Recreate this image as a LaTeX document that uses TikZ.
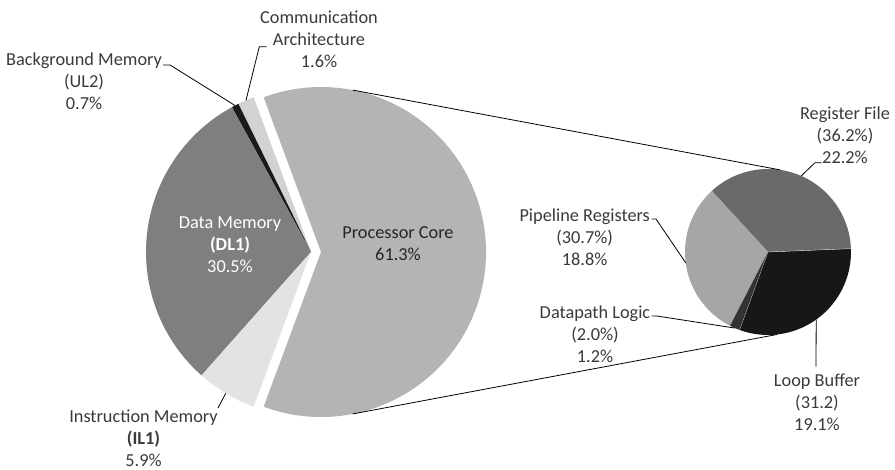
\documentclass[tikz,border=0pt]{standalone}
\usepackage{fontspec}
\setmainfont{Carlito}
\usetikzlibrary{calc}
\definecolor{coreGray}{HTML}{B4B4B4}
\definecolor{dataGray}{HTML}{7F7F7F}
\definecolor{bgBlack}{HTML}{1A1A1A}
\definecolor{commGray}{HTML}{D2D2D2}
\definecolor{instGray}{HTML}{E3E3E3}
\definecolor{rfGray}{HTML}{6A6A6A}
\definecolor{prGray}{HTML}{A6A6A6}
\definecolor{lbBlack}{HTML}{171717}
\definecolor{dlGray}{HTML}{333333}
\definecolor{labelText}{HTML}{3A3A3A}
\begin{document}
\begin{tikzpicture}[x=1pt,y=1pt,
  lbl/.style={align=center,text=labelText,inner sep=0pt,
    font=\fontsize{18.3}{22}\selectfont},
  leader/.style={draw=black,line width=0.8pt},
  zoomline/.style={draw=black,line width=0.8pt}]
\useasboundingbox (0,0) rectangle (895,470);

% pie centres
\coordinate (C1) at (311,218);
\coordinate (Ccore) at (321,218);
\coordinate (C2) at (768,218);

% main pie
\fill[coreGray] (Ccore) -- ++(-110.35:165) arc[start angle=-110.35,end angle=110.35,radius=165] -- cycle;
\fill[commGray] (C1) -- ++(110.35:165) arc[start angle=110.35,end angle=116.11,radius=165] -- cycle;
\fill[bgBlack] (C1) -- ++(116.11:165) arc[start angle=116.11,end angle=118.63,radius=165] -- cycle;
\fill[dataGray] (C1) -- ++(118.63:165) arc[start angle=118.63,end angle=228.43,radius=165] -- cycle;
\fill[instGray] (C1) -- ++(228.43:165) arc[start angle=228.43,end angle=249.65,radius=165] -- cycle;

% secondary pie
\fill[rfGray] (C2) -- ++(2.3:83) arc[start angle=2.3,end angle=132.6,radius=83] -- cycle;
\fill[prGray] (C2) -- ++(132.6:83) arc[start angle=132.6,end angle=242.8,radius=83] -- cycle;
\fill[dlGray] (C2) -- ++(242.8:83) arc[start angle=242.8,end angle=250,radius=83] -- cycle;
\fill[lbBlack] (C2) -- ++(-110:83) arc[start angle=-110,end angle=2.3,radius=83] -- cycle;
\draw[white,line width=0.3pt] (C2) -- ++(2.3:83);
\draw[white!70!black,line width=0.3pt] (C2) -- ++(-110:83);

% points on the slices
\coordinate (pComm) at ($(C1)+(113.2:165)$);
\coordinate (pBg) at ($(C1)+(117.4:165)$);
\coordinate (pInst) at ($(C1)+(238.9:165)$);
\coordinate (coreTop) at ($(Ccore)+(78.9:165)$);
\coordinate (coreBot) at ($(Ccore)+(-78.9:165)$);
\coordinate (smallTop) at ($(C2)+(81.7:83)$);
\coordinate (smallBot) at ($(C2)+(-83.8:83)$);
\coordinate (pRF) at ($(C2)+(66.4:83)$);
\coordinate (pPR) at ($(C2)+(187.5:83)$);
\coordinate (pDL) at ($(C2)+(246.4:83)$);
\coordinate (pLB) at ($(C2)+(-54.5:83)$);

% lines joining the core to its breakdown
\draw[zoomline] (coreTop) -- (smallTop);
\draw[zoomline] (coreBot) -- (smallBot);

% labels
\node[lbl] (comm) at (319,431) {Communication\\Architecture\\1.6\%};
\node[lbl] (bg) at (84,388.5) {Background Memory\\(UL2)\\0.7\%};
\node[lbl,text=white] (data) at (230,225) {Data Memory\\\textbf{(DL1)}\\30.5\%};
\node[lbl,text=black!85] (core) at (398,226) {Processor Core\\61.3\%};
\node[lbl] (inst) at (143.5,32) {Instruction Memory\\\textbf{(IL1)}\\5.9\%};
\node[lbl] (rf) at (845,335) {Register File\\(36.2\%)\\22.2\%};
\node[lbl] (pr) at (584.7,233) {Pipeline Registers\\(30.7\%)\\18.8\%};
\node[lbl] (dl) at (595,136) {Datapath Logic\\(2.0\%)\\1.2\%};
\node[lbl] (lb) at (817,67.3) {Loop Buffer\\(31.2)\\19.1\%};

% leader bends
\coordinate (commA) at (266.7,423.3);
\coordinate (commB) at (259.3,423.3);
\coordinate (bgA) at (163,405);
\coordinate (bgB) at (170,405);
\coordinate (instA) at (218,62);
\coordinate (rfA) at (821.7,307.3);
\coordinate (rfB) at (815,307.3);
\coordinate (prA) at (651.7,251);
\coordinate (prB) at (656,251);
\coordinate (dlA) at (651.7,154);
\coordinate (dlB) at (656.7,154);
\coordinate (lbA) at (816,103.3);

\draw[leader] (commA) -- (commB) -- (pComm);
\draw[leader] (bgA) -- (bgB) -- (pBg);
\draw[leader] (instA) -- (pInst);
\draw[leader] (rfA) -- (rfB) -- (pRF);
\draw[leader] (prA) -- (prB) -- (pPR);
\draw[leader] (dlA) -- (dlB) -- (pDL);
\draw[leader] (lbA) -- (pLB);
\end{tikzpicture}
\end{document}
